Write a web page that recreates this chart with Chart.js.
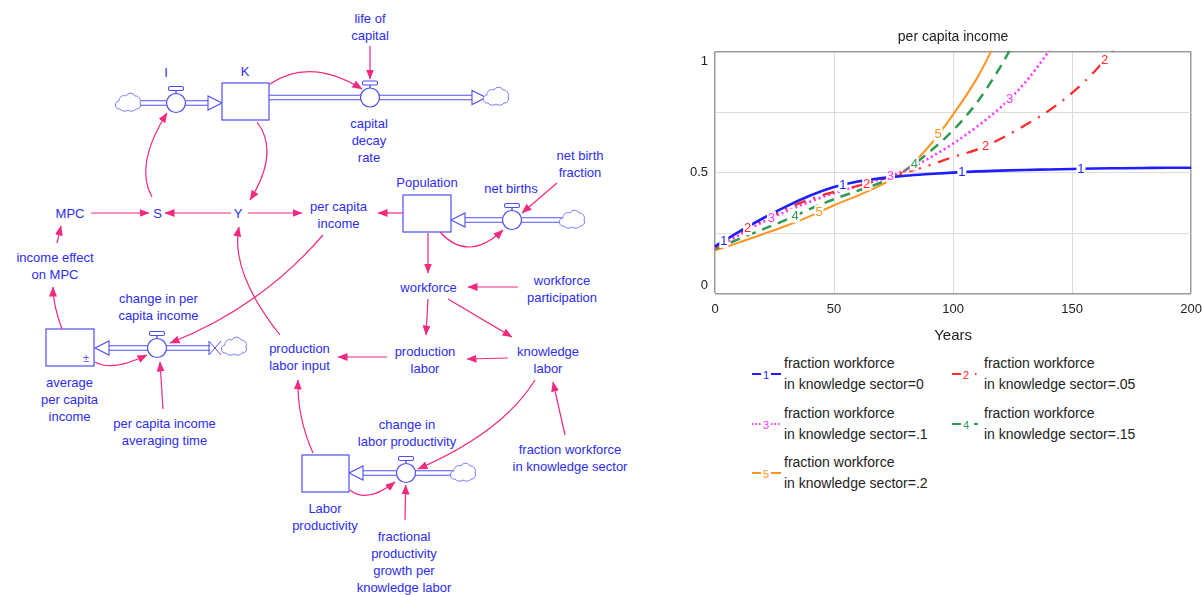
<!DOCTYPE html>
<html>
<head>
<meta charset="utf-8">
<script src="https://cdn.jsdelivr.net/npm/chart.js@4.4.0/dist/chart.umd.min.js"></script>
<style>
  body { margin:0; width:1202px; height:595px; background:#fff; position:relative; overflow:hidden;
         font-family:"Liberation Sans", Arial, sans-serif; }
  #diagram { position:absolute; left:0; top:0; }
  #chartWrap { position:absolute; left:680px; top:22px; width:530px; height:326px; }
  #legend { position:absolute; left:752px; top:353px; display:grid;
            grid-template-columns:200px 220px; grid-auto-rows:49.5px; }
  .lg-item { display:flex; align-items:flex-start; }
  .lg-item svg { margin-top:14px; margin-right:3px; flex:none; }
  .lg-text { font-size:14px; line-height:21px; color:#222; white-space:nowrap; }
</style>
</head>
<body>
<svg id="diagram" width="680" height="595"></svg>
<div id="chartWrap"><canvas id="chart"></canvas></div>
<div id="legend"></div>

<script>
// ===== DATA =====
const years  = [0,10,20,30,40,50,60,70,80,90,100,110,120,130,140,150,160,170,180,190,200]
const fks0   = [0.195,0.255,0.31,0.36,0.405,0.44,0.463,0.477,0.487,0.494,0.50,0.505,0.508,0.511,0.513,0.515,0.517,0.518,0.519,0.52,0.52]
const fks05  = [0.19,0.25,0.302,0.35,0.39,0.42,0.445,0.472,0.50,0.53,0.565,0.595,0.64,0.695,0.755,0.83,0.925,1.04,null,null,null]
const fks10  = [0.188,0.24,0.295,0.34,0.38,0.415,0.445,0.475,0.51,0.56,0.62,0.69,0.77,0.87,1.0,1.15,null,null,null,null,null]
const fks15  = [0.183,0.225,0.265,0.305,0.35,0.39,0.425,0.46,0.51,0.585,0.675,0.79,0.94,1.12,null,null,null,null,null,null,null]
const fks20  = [0.178,0.21,0.245,0.28,0.32,0.365,0.405,0.45,0.51,0.61,0.74,0.89,1.08,null,null,null,null,null,null,null,null]
const seriesNames = [
  'fraction workforce\nin knowledge sector=0',
  'fraction workforce\nin knowledge sector=.05',
  'fraction workforce\nin knowledge sector=.1',
  'fraction workforce\nin knowledge sector=.15',
  'fraction workforce\nin knowledge sector=.2',
]
const xTicks = [0, 50, 100, 150, 200]
const yTicks = [0, 0.5, 1]

// ===== STYLES =====
const C = {
  blue:'#1e1eff', red:'#ff2a2a', magenta:'#ff33ff', green:'#2e9a55', orange:'#ff9422',
  ink:'#2d2df2', link:'#f2297f', flow:'#4f4ff0', grid:'#dcdcdc', frame:'#9a9a9a', text:'#222'
}
const lineStyles = [
  { color:C.blue,    width:2.6, dash:[] },
  { color:C.red,     width:2.2, dash:[12,8,2,8] },
  { color:C.magenta, width:2.6, dash:[2,3] },
  { color:C.green,   width:2.5, dash:[10,7] },
  { color:C.orange,  width:2.0, dash:[] },
]
const allSeries = [fks0, fks05, fks10, fks15, fks20]

// ===== STOCK & FLOW DIAGRAM =====
function label(x, y, lines) {
  return lines.map((t, i) => `<text x="${x}" y="${y + i * 17.2}">${t}</text>`).join('')
}
function stock(x, y, w, h) {
  return `<rect x="${x}" y="${y}" width="${w}" height="${h}" fill="#fff" stroke="${C.flow}" stroke-width="1.2"/>`
}
function pipe(x1, x2, y) {
  return `<line x1="${x1}" y1="${y-2.2}" x2="${x2}" y2="${y-2.2}" stroke="${C.flow}" stroke-width="1.1"/>
          <line x1="${x1}" y1="${y+2.2}" x2="${x2}" y2="${y+2.2}" stroke="${C.flow}" stroke-width="1.1"/>`
}
function head(tip, y, dir) {
  const b = tip - dir * 14
  return `<polygon points="${tip},${y} ${b},${y-7} ${b},${y+7}" fill="#fff" stroke="${C.flow}" stroke-width="1.1"/>`
}
function valve(cx, cy) {
  return `<line x1="${cx}" y1="${cy-9.5}" x2="${cx}" y2="${cy-13}" stroke="${C.flow}" stroke-width="1.4"/>
          <rect x="${cx-7.5}" y="${cy-16.5}" width="15" height="4" rx="1.5" fill="#fff" stroke="${C.flow}" stroke-width="1.1"/>
          <circle cx="${cx}" cy="${cy}" r="9.5" fill="#fff" stroke="${C.flow}" stroke-width="1.2"/>`
}
function cloud(cx, cy) {
  return `<path d="M${cx-9},${cy+6} a4,4 0 0 1 -1,-8 a5,5 0 0 1 7,-5 a5,5 0 0 1 9,0 a5,5 0 0 1 5,7
          a4,4 0 0 1 -4,6 a5,4 0 0 1 -8,1 a5,4 0 0 1 -8,-1 z" fill="#fff" stroke="#7a7aff" stroke-width="1"/>`
}

const links = [
  'M370,46 L370,79',
  'M270,84 Q310,57 362,89',
  'M257,122 Q280,152 250,200',
  'M152,197 Q134,165 167,113',
  'M231,213 L165,213',
  'M248,213 L302,213',
  'M91,213 L149,213',
  'M403,213 L378,213',
  'M57,243 L61,226',
  'M62,329 Q53,305 53,287',
  'M323,235 Q260,308 170,343',
  'M95,362 Q112,372 147,355',
  'M163,409 L160,362',
  'M280,335 Q230,272 239,227',
  'M313,453 Q297,417 298,380',
  'M557,183 L522,213',
  'M440,232 Q468,263 503,230',
  'M428,233 L428,273',
  'M518,287 L468,287',
  'M428,299 L426,335',
  'M448,299 L512,337',
  'M508,358 L467,359',
  'M387,357 L338,357',
  'M565,435 L553,382',
  'M535,380 Q503,432 418,469',
  'M350,490 Q367,504 395,482',
  'M405,520 L405.7,485',
]

document.getElementById('diagram').innerHTML = `
  <defs>
    <marker id="ah" viewBox="0 0 10 8" refX="9.5" refY="4" markerWidth="10" markerHeight="8.5"
            markerUnits="userSpaceOnUse" orient="auto">
      <path d="M0,0 L10,4 L0,8 z" fill="${C.link}"/>
    </marker>
  </defs>
  <!-- flows -->
  ${pipe(140, 210, 103)} ${head(222, 103, 1)} ${cloud(129, 103)} ${valve(176, 103)}
  ${pipe(269, 473, 97.5)} ${head(486, 97.5, 1)} ${cloud(497, 97)} ${valve(370, 97.5)}
  ${pipe(462, 562, 220)} ${head(451, 220, -1)} ${cloud(573, 220)} ${valve(512, 220)}
  ${pipe(106, 210, 348)} ${head(95, 348, -1)} ${cloud(235, 347)} ${valve(157, 348)}
  <path d="M209,341 L209,355 M209,341 L221,355 M209,355 L221,341" stroke="${C.flow}" stroke-width="1" fill="none"/>
  ${pipe(360, 453, 473)} ${head(349, 473, -1)} ${cloud(464, 473)} ${valve(406, 473)}
  <!-- stocks -->
  ${stock(222, 83, 47, 37)}
  ${stock(403, 195, 48, 37)}
  ${stock(46, 329, 48, 37)}
  <text x="86" y="358" font-size="11" fill="${C.flow}" text-anchor="middle" dominant-baseline="central" font-family="Liberation Sans, Arial">±</text>
  ${stock(302, 455, 47, 37)}
  <!-- influence links -->
  <g fill="none" stroke="${C.link}" stroke-width="1.2" marker-end="url(#ah)">
    ${links.map(d => `<path d="${d}"/>`).join('')}
  </g>
  <!-- labels -->
  <g font-family="Liberation Sans, Arial, sans-serif" font-size="13" fill="${C.ink}"
     text-anchor="middle" dominant-baseline="central">
    ${label(370, 18, ['life of', 'capital'])}
    ${label(166, 72, ['I'])}
    ${label(245, 71, ['K'])}
    ${label(369, 123.5, ['capital', 'decay', 'rate'])}
    ${label(427, 182, ['Population'])}
    ${label(511, 188.5, ['net births'])}
    ${label(580, 155, ['net birth', 'fraction'])}
    ${label(70, 213.5, ['MPC'])}
    ${label(157.5, 213.5, ['S'])}
    ${label(238, 213.5, ['Y'])}
    ${label(338.5, 206, ['per capita', 'income'])}
    ${label(55, 257.5, ['income effect', 'on MPC'])}
    ${label(428.5, 287.5, ['workforce'])}
    ${label(562, 280, ['workforce', 'participation'])}
    ${label(158.5, 298.5, ['change in per', 'capita income'])}
    ${label(299.5, 348, ['production', 'labor input'])}
    ${label(425, 351, ['production', 'labor'])}
    ${label(548, 351, ['knowledge', 'labor'])}
    ${label(69.5, 382, ['average', 'per capita', 'income'])}
    ${label(164.5, 423, ['per capita income', 'averaging time'])}
    ${label(407, 424.5, ['change in', 'labor productivity'])}
    ${label(570, 449.5, ['fraction workforce', 'in knowledge sector'])}
    ${label(325, 508, ['Labor', 'productivity'])}
    ${label(404, 536, ['fractional', 'productivity', 'growth per', 'knowledge labor'])}
  </g>
`

// ===== LEGEND =====
function legendSample(i) {
  const s = lineStyles[i]
  const dash = i === 2 ? '1.5,2' : 'none'
  const tails = ['M19,7 L29,7', 'M23,7 L24.5,7', 'M19,7 L29,7', 'M22,7 L26,7', 'M19,7 L29,7']
  return `<svg width="29" height="14">
    <path d="M0,7 L9,7" stroke="${s.color}" stroke-width="2" stroke-dasharray="${dash}"/>
    <text x="14" y="7.5" font-size="11" fill="${s.color}" text-anchor="middle" dominant-baseline="central"
          font-family="Liberation Sans, Arial">${i + 1}</text>
    <path d="${tails[i]}" stroke="${s.color}" stroke-width="2" stroke-dasharray="${dash}"/>
  </svg>`
}
document.getElementById('legend').innerHTML = seriesNames.map((n, i) => `
  <div class="lg-item">${legendSample(i)}<div class="lg-text">${n.replace('\n', '<br>')}</div></div>
`).join('')

// ===== CHART =====
// numbered markers along each curve, every 50 years, staggered by series
const lineNumbers = {
  id: 'lineNumbers',
  afterDatasetsDraw(chart) {
    const { ctx, chartArea, scales: { x } } = chart
    chart.data.datasets.forEach((ds, i) => {
      const pts = chart.getDatasetMeta(i).data
      for (let yr = 3.7 + 10 * i; yr <= 200; yr += 50) {
        const px = x.getPixelForValue(yr)
        let py = null
        for (let k = 0; k < pts.length - 1; k++) {
          if (ds.data[k].y == null || ds.data[k + 1].y == null) continue
          const a = pts[k], b = pts[k + 1]
          if (px >= a.x && px <= b.x) { py = a.y + (b.y - a.y) * (px - a.x) / (b.x - a.x); break }
        }
        if (py == null || py < chartArea.top + 6) continue
        ctx.save()
        ctx.fillStyle = '#fff'
        ctx.fillRect(px - 4.5, py - 7, 9, 14)
        ctx.fillStyle = ds.borderColor
        ctx.font = '13px "Liberation Sans", Arial'
        ctx.textAlign = 'center'
        ctx.textBaseline = 'middle'
        ctx.fillText(String(i + 1), px, py + 0.5)
        ctx.restore()
      }
    })
  }
}

const yLabels = {
  id: 'yLabels',
  afterDraw(chart) {
    const { ctx, scales: { y } } = chart
    ctx.save()
    ctx.font = '13px "Liberation Sans", Arial'
    ctx.fillStyle = C.text
    ctx.textAlign = 'right'
    ctx.textBaseline = 'middle'
    yTicks.forEach(v => {
      const off = v === y.max ? 10 : v === y.min ? -8 : 0
      ctx.fillText(String(v), y.left - 7, y.getPixelForValue(v) + off)
    })
    ctx.restore()
  }
}

const edge = (v, lo, hi) => (v === lo || v === hi) ? C.frame : C.grid

new Chart(document.getElementById('chart'), {
  type: 'line',
  data: {
    datasets: allSeries.map((vals, i) => ({
      label: seriesNames[i],
      data: years.map((x, k) => ({ x, y: vals[k] })),
      borderColor: lineStyles[i].color,
      borderWidth: lineStyles[i].width,
      borderDash: lineStyles[i].dash,
      pointRadius: 0,
      cubicInterpolationMode: 'monotone',
      clip: 1,
    }))
  },
  options: {
    responsive: true, maintainAspectRatio: false, animation: false,
    layout: { padding: { left: 35, right: 0, top: 0, bottom: 3 } },
    plugins: {
      legend: { display: false },
      tooltip: { enabled: false },
      title: {
        display: true, text: 'per capita income', color: C.text, fullSize: false,
        font: { family: '"Liberation Sans", Arial', size: 14, weight: 'normal' },
        padding: { top: 7, bottom: 6 }
      }
    },
    scales: {
      x: {
        type: 'linear', min: 0, max: 200,
        afterBuildTicks: s => { s.ticks = xTicks.map(v => ({ value: v })) },
        grid: { color: c => edge(c.tick.value, 0, 200), lineWidth: c => (c.tick.value === 0 || c.tick.value === 200) ? 1.5 : 1, drawTicks: false },
        border: { display: false },
        ticks: { color: C.text, padding: 8, maxRotation: 0, font: { family: '"Liberation Sans", Arial', size: 13 } },
        title: { display: true, text: 'Years', color: C.text, padding: { top: 2, bottom: 0 },
                 font: { family: '"Liberation Sans", Arial', size: 15 } }
      },
      y: {
        min: 0, max: 1,
        ticks: { display: false, stepSize: 0.25 },
        grid: { color: c => edge(c.tick.value, 0, 1), lineWidth: c => (c.tick.value === 0 || c.tick.value === 1) ? 1.5 : 1, drawTicks: false },
        border: { display: false }
      }
    }
  },
  plugins: [lineNumbers, yLabels]
})
</script>
</body>
</html>
